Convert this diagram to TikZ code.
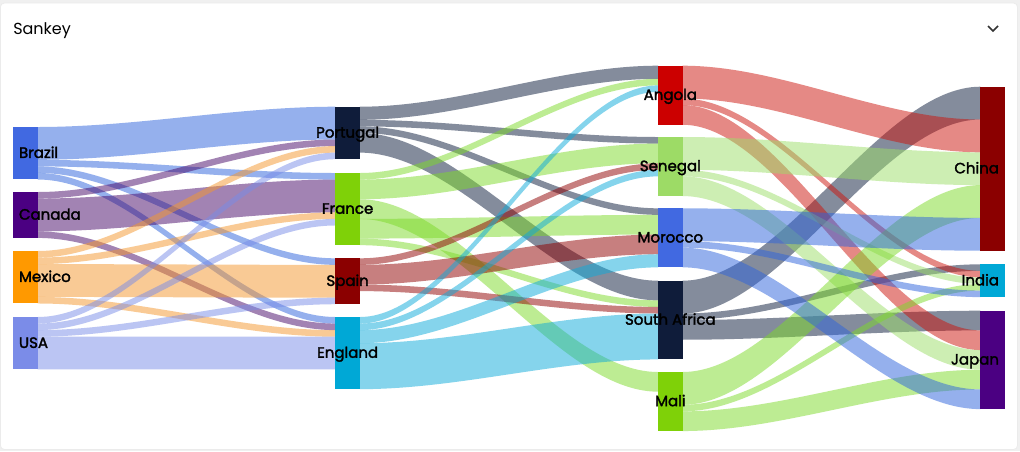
\documentclass[tikz,border=0pt]{standalone}
\usepackage{fontspec}
\setmainfont{Poppins}
\newfontfamily\lblfont{Poppins}[FakeBold=2.0]
\usetikzlibrary{calc}
\pgfdeclarelayer{bg}
\pgfsetlayers{bg,main}
\definecolor{cBrazil}{HTML}{4169E1}
\definecolor{cCanada}{HTML}{4B0082}
\definecolor{cMexico}{HTML}{FF9900}
\definecolor{cUSA}{HTML}{7B8CE8}
\definecolor{cNavy}{HTML}{0F1C3A}
\definecolor{cFrance}{HTML}{7FD108}
\definecolor{cSpain}{HTML}{8B0000}
\definecolor{cEngland}{HTML}{00A8D6}
\definecolor{cAngola}{HTML}{CC0000}
\definecolor{cSenegal}{HTML}{9DDB66}
\definecolor{cPage}{HTML}{F0F0F0}
% link colours (blended at half opacity)
\definecolor{lBrazil}{RGB}{45,99,221}
\definecolor{lCanada}{RGB}{71,8,105}
\definecolor{lMexico}{RGB}{245,151,45}
\definecolor{lUSA}{RGB}{120,140,232}
\definecolor{lNavy}{RGB}{11,27,59}
\definecolor{lFrance}{RGB}{125,218,40}
\definecolor{lSpain}{RGB}{145,0,0}
\definecolor{lEngland}{RGB}{12,170,218}
\definecolor{lAngola}{RGB}{205,20,12}
\definecolor{lSenegal}{RGB}{157,222,105}
\def\uu{4.92pt}
\tikzset{
  nodebox/.style={rectangle,anchor=north west,inner sep=0pt,outer sep=0pt,minimum width=18.5pt},
  lbl/.style={inner sep=0pt,outer sep=0pt,text=black,font=\lblfont\fontsize{11.25pt}{13pt}\selectfont,text height=9.5pt,text depth=2.5pt},
  flowline/.style={fill opacity=0.5,draw=none}
}
\newcommand\nbox[5]{\node[nodebox,fill=#5,minimum height=#4*\uu] (#1) at (#2,#3) {};}
% \flow{colour}{source}{source offset}{target}{target offset}{units}
\newcommand\flow[6]{\fill[flowline,fill=#1]
  let \p1=($(#2.north east)+(0,{#3*6.56})$),
      \p2=($(#4.north west)+(0,{#5*6.56})$),
      \n1={0.667*\x1+0.333*\x2}, \n3={0.333*\x1+0.667*\x2}, \n2={#6*4.92}
  in (\p1) .. controls ({\n1},\y1) and ({\n3},\y2) .. (\p2)
     -- (\x2,{\y2-\n2})
     .. controls ({\n3},{\y2-\n2}) and ({\n1},{\y1-\n2}) .. (\x1,{\y1-\n2}) -- cycle;}
\begin{document}
\begin{tikzpicture}[x=0.75pt,y=-0.75pt]
\useasboundingbox (0,0) rectangle (1020,451);
\begin{pgfonlayer}{bg}
\fill[cPage] (0,0) rectangle (1020,451);
\filldraw[fill=white,draw=black!8,line width=0.6pt,rounded corners=3pt] (0.4,3) rectangle (1017.5,449.5);
\end{pgfonlayer}
% nodes
\nbox{brazil}{13}{127}{8}{cBrazil}
\nbox{canada}{13}{192}{7}{cCanada}
\nbox{mexico}{13}{251}{8}{cMexico}
\nbox{usa}{13}{317}{8}{cUSA}
\nbox{portugal}{335.3}{106.7}{8}{cNavy}
\nbox{france}{335.3}{173}{11}{cFrance}
\nbox{spain}{335.3}{258.3}{7}{cSpain}
\nbox{england}{335.3}{317}{11}{cEngland}
\nbox{angola}{658}{65.7}{9}{cAngola}
\nbox{senegal}{658}{137}{9}{cSenegal}
\nbox{morocco}{658}{208.3}{9}{cBrazil}
\nbox{safrica}{658}{280.7}{12}{cNavy}
\nbox{mali}{658}{372}{9}{cFrance}
\nbox{china}{980.3}{86.7}{25}{cSpain}
\nbox{india}{980.3}{264.3}{5}{cEngland}
\nbox{japan}{980.3}{310.7}{15}{cCanada}
% links
\begin{pgfonlayer}{bg}
\flow{lBrazil}{brazil}{0}{portugal}{0}{5}
\flow{lBrazil}{brazil}{5}{france}{0}{1}
\flow{lBrazil}{brazil}{6}{spain}{0}{1}
\flow{lBrazil}{brazil}{7}{england}{0}{1}
\flow{lCanada}{canada}{0}{portugal}{5}{1}
\flow{lCanada}{canada}{1}{france}{1}{5}
\flow{lCanada}{canada}{6}{england}{1}{1}
\flow{lMexico}{mexico}{0}{portugal}{6}{1}
\flow{lMexico}{mexico}{1}{france}{6}{1}
\flow{lMexico}{mexico}{2}{spain}{1}{5}
\flow{lMexico}{mexico}{7}{england}{2}{1}
\flow{lUSA}{usa}{0}{portugal}{7}{1}
\flow{lUSA}{usa}{1}{france}{7}{1}
\flow{lUSA}{usa}{2}{spain}{6}{1}
\flow{lUSA}{usa}{3}{england}{3}{5}
\flow{lNavy}{portugal}{0}{angola}{0}{2}
\flow{lNavy}{portugal}{2}{senegal}{0}{1}
\flow{lNavy}{portugal}{3}{morocco}{0}{1}
\flow{lNavy}{portugal}{4}{safrica}{0}{3}
\flow{lFrance}{france}{0}{angola}{2}{1}
\flow{lFrance}{france}{1}{senegal}{1}{3}
\flow{lFrance}{france}{4}{mali}{0}{3}
\flow{lFrance}{france}{7}{morocco}{1}{3}
\flow{lFrance}{france}{10}{safrica}{3}{1}
\flow{lSpain}{spain}{0}{senegal}{4}{1}
\flow{lSpain}{spain}{1}{morocco}{4}{3}
\flow{lSpain}{spain}{4}{safrica}{4}{1}
\flow{lEngland}{england}{0}{angola}{3}{1}
\flow{lEngland}{england}{1}{senegal}{5}{1}
\flow{lEngland}{england}{2}{morocco}{7}{2}
\flow{lEngland}{england}{4}{safrica}{5}{7}
\flow{lNavy}{safrica}{0}{china}{0}{5}
\flow{lNavy}{safrica}{5}{india}{0}{1}
\flow{lNavy}{safrica}{6}{japan}{0}{3}
\flow{lAngola}{angola}{0}{china}{5}{5}
\flow{lAngola}{angola}{5}{india}{1}{1}
\flow{lAngola}{angola}{6}{japan}{3}{3}
\flow{lSenegal}{senegal}{0}{china}{10}{5}
\flow{lSenegal}{senegal}{5}{india}{2}{1}
\flow{lSenegal}{senegal}{6}{japan}{6}{3}
\flow{lFrance}{mali}{0}{china}{15}{5}
\flow{lFrance}{mali}{5}{india}{3}{1}
\flow{lFrance}{mali}{6}{japan}{9}{3}
\flow{lBrazil}{morocco}{0}{china}{20}{5}
\flow{lBrazil}{morocco}{5}{india}{4}{1}
\flow{lBrazil}{morocco}{6}{japan}{12}{3}
\end{pgfonlayer}
% labels
\node[lbl,anchor=west] (lbrazil) at ($(brazil.west)+(6,0)$) {Brazil};
\node[lbl,anchor=west] (lcanada) at ($(canada.west)+(6,0)$) {Canada};
\node[lbl,anchor=west] (lmexico) at ($(mexico.west)+(6,0)$) {Mexico};
\node[lbl,anchor=west] (lusa) at ($(usa.west)+(6,0)$) {USA};
\node[lbl] (lportugal) at (portugal) {Portugal};
\node[lbl] (lfrance) at (france) {France};
\node[lbl] (lspain) at (spain) {Spain};
\node[lbl] (lengland) at (england) {England};
\node[lbl] (langola) at (angola) {Angola};
\node[lbl] (lsenegal) at (senegal) {Senegal};
\node[lbl] (lmorocco) at (morocco) {Morocco};
\node[lbl] (lsafrica) at (safrica) {South Africa};
\node[lbl] (lmali) at (mali) {Mali};
\node[lbl,anchor=east] (lchina) at ($(china.east)+(-6,0)$) {China};
\node[lbl,anchor=east] (lindia) at ($(india.east)+(-6,0)$) {India};
\node[lbl,anchor=east] (ljapan) at ($(japan.east)+(-6,0)$) {Japan};
% header
\node[anchor=base west,inner sep=0pt,text=black,font=\fontsize{12pt}{14pt}\selectfont] (title) at (13,34.5) {Sankey};
\coordinate (chevA) at (988,26);
\coordinate (chevB) at (993,31);
\coordinate (chevC) at (998,26);
\draw[line width=1.1pt,color=black!80,line join=miter] (chevA) -- (chevB) -- (chevC);
\end{tikzpicture}
\end{document}
